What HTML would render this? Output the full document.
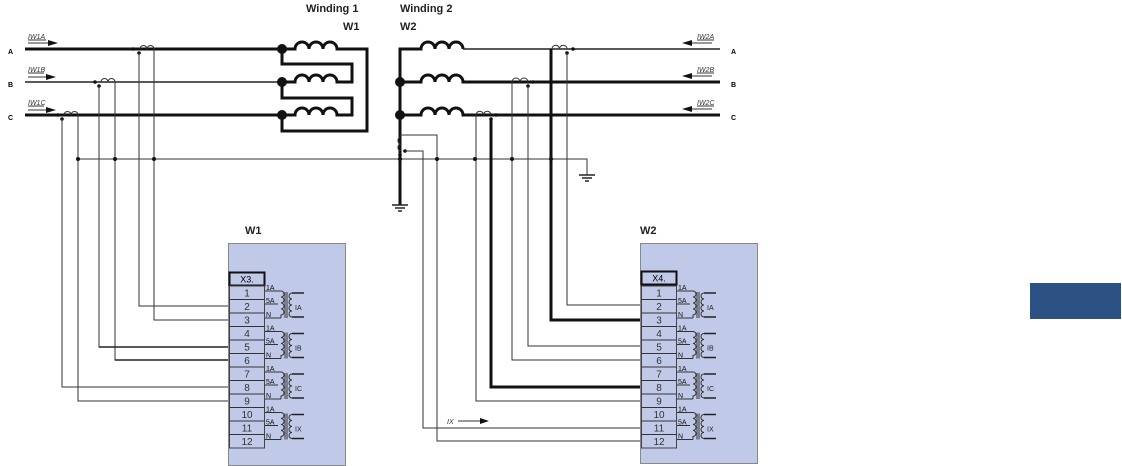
<!DOCTYPE html>
<html><head><meta charset="utf-8"><style>
html,body{margin:0;padding:0;background:#fff;}
svg{display:block;font-family:"Liberation Sans",sans-serif;}
.t{stroke:#111;stroke-width:3;fill:none}
.m{stroke:#222;stroke-width:1.5;fill:none}
.n{stroke:#333;stroke-width:1;fill:none}
</style></head><body>
<svg width="1122" height="466" viewBox="0 0 1122 466" xmlns="http://www.w3.org/2000/svg">
<defs>
<g id="xf">
  <line x1="265" y1="5" x2="281" y2="5" class="n"/>
  <line x1="265" y1="18" x2="278" y2="18" class="n"/>
  <line x1="265" y1="32" x2="281" y2="32" class="n"/>
  <text x="266" y="4" font-size="7" fill="#111">1A</text>
  <text x="266" y="17" font-size="7" fill="#111">5A</text>
  <text x="266" y="31" font-size="7" fill="#111">N</text>
  <path d="M281 5 a3 3 0 0 1 0 6 a3 3 0 0 1 0 6 a3 3 0 0 1 0 6 a3 3 0 0 1 0 6 L281 32" class="n" stroke-width="1.3"/>
  <line x1="285" y1="6" x2="285" y2="32" class="n"/>
  <line x1="287" y1="6" x2="287" y2="32" class="n"/>
  <path d="M292 7 a3 3 0 0 0 0 6 a3 3 0 0 0 0 6 a3 3 0 0 0 0 6 a3 3 0 0 0 0 6" class="n" stroke-width="1.3"/>
  <path d="M292 7 L304 7 M292 31 L304 31" class="m"/>
</g>
<g id="gnd"><line x1="-8" y1="0" x2="8" y2="0" class="m"/><line x1="-5" y1="3" x2="5" y2="3" class="m"/><line x1="-2" y1="6" x2="2" y2="6" class="m" stroke-width="2"/></g>
</defs>

<text x="306" y="12" font-size="11" font-weight="bold" fill="#222">Winding 1</text>
<text x="343" y="30" font-size="11" font-weight="bold" fill="#222">W1</text>
<text x="400" y="12" font-size="11" font-weight="bold" fill="#222">Winding 2</text>
<text x="400" y="30" font-size="11" font-weight="bold" fill="#222">W2</text>

<text x="8" y="54" font-size="7" font-weight="bold">A</text>
<text x="8" y="87" font-size="7" font-weight="bold">B</text>
<text x="8" y="120" font-size="7" font-weight="bold">C</text>
<text x="731" y="54" font-size="7" font-weight="bold">A</text>
<text x="731" y="87" font-size="7" font-weight="bold">B</text>
<text x="731" y="120" font-size="7" font-weight="bold">C</text>

<g font-size="7" font-style="italic" fill="#333">
<text x="28" y="39">IW1A</text><text x="28" y="72">IW1B</text><text x="28" y="105">IW1C</text>
<text x="697" y="39">IW2A</text><text x="697" y="72">IW2B</text><text x="697" y="105">IW2C</text>
</g>
<g class="n">
<line x1="28" y1="40" x2="46" y2="40"/><line x1="28" y1="73" x2="44" y2="73"/><line x1="28" y1="106" x2="44" y2="106"/>
<line x1="697" y1="40" x2="714" y2="40"/><line x1="697" y1="73" x2="714" y2="73"/><line x1="697" y1="106" x2="714" y2="106"/>
</g>
<line x1="28" y1="43" x2="50" y2="43" class="n"/><polygon points="58,43 48,40 48,46" fill="#111"/>
<line x1="28" y1="77" x2="48" y2="77" class="n"/><polygon points="56,77 46,74 46,80" fill="#111"/>
<line x1="28" y1="110" x2="48" y2="110" class="n"/><polygon points="56,110 46,107 46,113" fill="#111"/>
<line x1="690" y1="43" x2="712" y2="43" class="n"/><polygon points="682,43 692,40 692,46" fill="#111"/>
<line x1="690" y1="76" x2="712" y2="76" class="n"/><polygon points="682,76 692,73 692,79" fill="#111"/>
<line x1="690" y1="109" x2="712" y2="109" class="n"/><polygon points="682,109 692,106 692,112" fill="#111"/>

<line x1="25" y1="49" x2="282" y2="49" class="t"/>
<line x1="25" y1="82" x2="282" y2="82" class="m"/>
<line x1="25" y1="115" x2="282" y2="115" class="t"/>
<g class="t" stroke-width="2.5">
<path d="M282 49 H295 a7 7 0 0 1 14 0 a7 7 0 0 1 14 0 a7 7 0 0 1 14 0 H367 V131 H282 V115"/>
<path d="M282 82 H295 a7 7 0 0 1 14 0 a7 7 0 0 1 14 0 a7 7 0 0 1 14 0 H352 V64 H282 V49"/>
<path d="M282 115 H295 a7 7 0 0 1 14 0 a7 7 0 0 1 14 0 a7 7 0 0 1 14 0 H352 V98 H282 V82"/>
</g>
<circle cx="282" cy="49" r="5" fill="#111"/><circle cx="282" cy="82" r="5" fill="#111"/><circle cx="282" cy="115" r="5" fill="#111"/>

<g class="n" stroke-width="1.3">
<path d="M140 49 a3.5 3.5 0 0 1 7 0 a3.5 3.5 0 0 1 7 0"/>
<path d="M101 82 a3.5 3.5 0 0 1 7 0 a3.5 3.5 0 0 1 7 0"/>
<path d="M64 115 a3.5 3.5 0 0 1 7 0 a3.5 3.5 0 0 1 7 0"/>
</g>
<circle cx="133" cy="49" r="1.8" fill="#111"/><circle cx="139" cy="53" r="1.8" fill="#111"/>
<circle cx="95" cy="82" r="1.8" fill="#111"/><circle cx="99" cy="86" r="1.8" fill="#111"/>
<circle cx="58" cy="115" r="1.8" fill="#111"/><circle cx="62" cy="119" r="1.8" fill="#111"/>

<g class="n" stroke-width="1.2">
<path d="M139 53 V306 H229"/>
<path d="M154 49 V320 H229"/>
<path d="M99 86 V347 H229"/>
<path d="M115 82 V360 H229"/>
<path d="M62 119 V387 H229"/>
<path d="M78 115 V401 H229"/>
<path d="M78 159 H587 V175"/>
</g>
<g class="m" stroke-width="2">
<path d="M99 347 H229"/><path d="M115 360 H229"/>
</g>
<circle cx="78" cy="159" r="2" fill="#111"/><circle cx="115" cy="159" r="2" fill="#111"/><circle cx="154" cy="159" r="2" fill="#111"/>
<use href="#gnd" x="587" y="175"/>

<g class="t" stroke-width="2.5">
<path d="M463 49 a7 7 0 0 0 -14 0 a7 7 0 0 0 -14 0 a7 7 0 0 0 -14 0 H400 V205"/>
<path d="M720 82 H463 a7 7 0 0 0 -14 0 a7 7 0 0 0 -14 0 a7 7 0 0 0 -14 0 H400"/>
<path d="M720 115 H463 a7 7 0 0 0 -14 0 a7 7 0 0 0 -14 0 a7 7 0 0 0 -14 0 H400"/>
</g>
<line x1="463" y1="49" x2="720" y2="49" class="m" stroke-width="2"/>
<circle cx="400" cy="82" r="5" fill="#111"/><circle cx="400" cy="115" r="5" fill="#111"/>
<use href="#gnd" x="400" y="205"/>
<path d="M400 137 a4 4 0 0 0 0 7 a4 4 0 0 0 0 7" class="n" stroke-width="1.3"/>
<circle cx="400" cy="155" r="1.8" fill="#111"/><circle cx="405" cy="151" r="1.8" fill="#111"/>
<g class="n" stroke-width="1.2">
<path d="M400 135 H437 V441 H641"/>
<path d="M405 151 H423 V428 H641"/>
</g>
<g class="n" stroke-width="1.3">
<path d="M552 49 a3.75 3.75 0 0 1 7.5 0 a3.75 3.75 0 0 1 7.5 0"/>
<path d="M512 82 a4 4 0 0 1 8 0 a4 4 0 0 1 8 0"/>
<path d="M476 115 a3.75 3.75 0 0 1 7.5 0 a3.75 3.75 0 0 1 7.5 0"/>
</g>
<circle cx="573" cy="49" r="1.8" fill="#111"/><circle cx="567" cy="53" r="1.8" fill="#111"/>
<circle cx="533" cy="82" r="1.8" fill="#111"/><circle cx="528" cy="86" r="1.8" fill="#111"/>
<circle cx="496" cy="115" r="1.8" fill="#111"/><circle cx="491" cy="119" r="1.8" fill="#111"/>
<g class="n" stroke-width="1.2">
<path d="M567 53 V305 H641"/>
<path d="M528 86 V346 H641"/>
<path d="M512 82 V360 H641"/>
<path d="M476 115 V401 H641"/>
</g>
<g class="t" stroke-width="2.2">
<path d="M551 49 V320 H641"/>
<path d="M491 119 V387 H641"/>
</g>
<circle cx="437" cy="159" r="2" fill="#111"/><circle cx="475" cy="159" r="2" fill="#111"/><circle cx="512" cy="159" r="2" fill="#111"/><circle cx="551" cy="159" r="2" fill="#111"/><circle cx="400" cy="159" r="2" fill="#111"/>
<text x="447" y="424" font-size="7" font-style="italic" fill="#333">IX</text>
<line x1="458" y1="421" x2="482" y2="421" class="n"/><polygon points="489,421 480,418 480,424" fill="#111"/>

<text x="245" y="234" font-size="11" font-weight="bold" fill="#222">W1</text>
<rect x="228.5" y="243.5" width="117" height="222" fill="#c0c9e8" stroke="#888" stroke-width="1"/>
<rect x="229.5" y="272.5" width="35" height="13" fill="#c0c9e8" stroke="#111" stroke-width="2"/>
<text x="247" y="282.5" font-size="9" text-anchor="middle">X3.</text>
<g id="pins1">
<rect x="229.5" y="286" width="35" height="162" fill="#c0c9e8" stroke="#444" stroke-width="1"/>
<g class="n" stroke="#555" stroke-width="0.8">
<line x1="229.5" y1="299.5" x2="264.5" y2="299.5"/><line x1="229.5" y1="313" x2="264.5" y2="313"/><line x1="229.5" y1="326.5" x2="264.5" y2="326.5"/><line x1="229.5" y1="340" x2="264.5" y2="340"/><line x1="229.5" y1="353.5" x2="264.5" y2="353.5"/><line x1="229.5" y1="367" x2="264.5" y2="367"/><line x1="229.5" y1="380.5" x2="264.5" y2="380.5"/><line x1="229.5" y1="394" x2="264.5" y2="394"/><line x1="229.5" y1="407.5" x2="264.5" y2="407.5"/><line x1="229.5" y1="421" x2="264.5" y2="421"/><line x1="229.5" y1="434.5" x2="264.5" y2="434.5"/>
</g>
<g font-size="10" text-anchor="middle" fill="#333">
<text x="247" y="296.5">1</text><text x="247" y="310">2</text><text x="247" y="323.5">3</text><text x="247" y="337">4</text><text x="247" y="350.5">5</text><text x="247" y="364">6</text><text x="247" y="377.5">7</text><text x="247" y="391">8</text><text x="247" y="404.5">9</text><text x="247" y="418">10</text><text x="247" y="431.5">11</text><text x="247" y="445">12</text>
</g>
<use href="#xf" y="286"/><use href="#xf" y="326.5"/><use href="#xf" y="367"/><use href="#xf" y="407.5"/>
<g font-size="7" fill="#222"><text x="295" y="310">IA</text><text x="295" y="350.5">IB</text><text x="295" y="391">IC</text><text x="295" y="431.5">IX</text></g>
</g>

<text x="640" y="234" font-size="11" font-weight="bold" fill="#222">W2</text>
<rect x="640.5" y="243.5" width="117" height="220" fill="#c0c9e8" stroke="#888" stroke-width="1"/>
<rect x="641.5" y="271.5" width="35" height="13" fill="#c0c9e8" stroke="#111" stroke-width="2"/>
<text x="659" y="281.5" font-size="9" text-anchor="middle">X4.</text>
<use href="#pins1" x="412"/>

<rect x="1030" y="283" width="91" height="36" fill="#2b5283"/>
</svg>
</body></html>
